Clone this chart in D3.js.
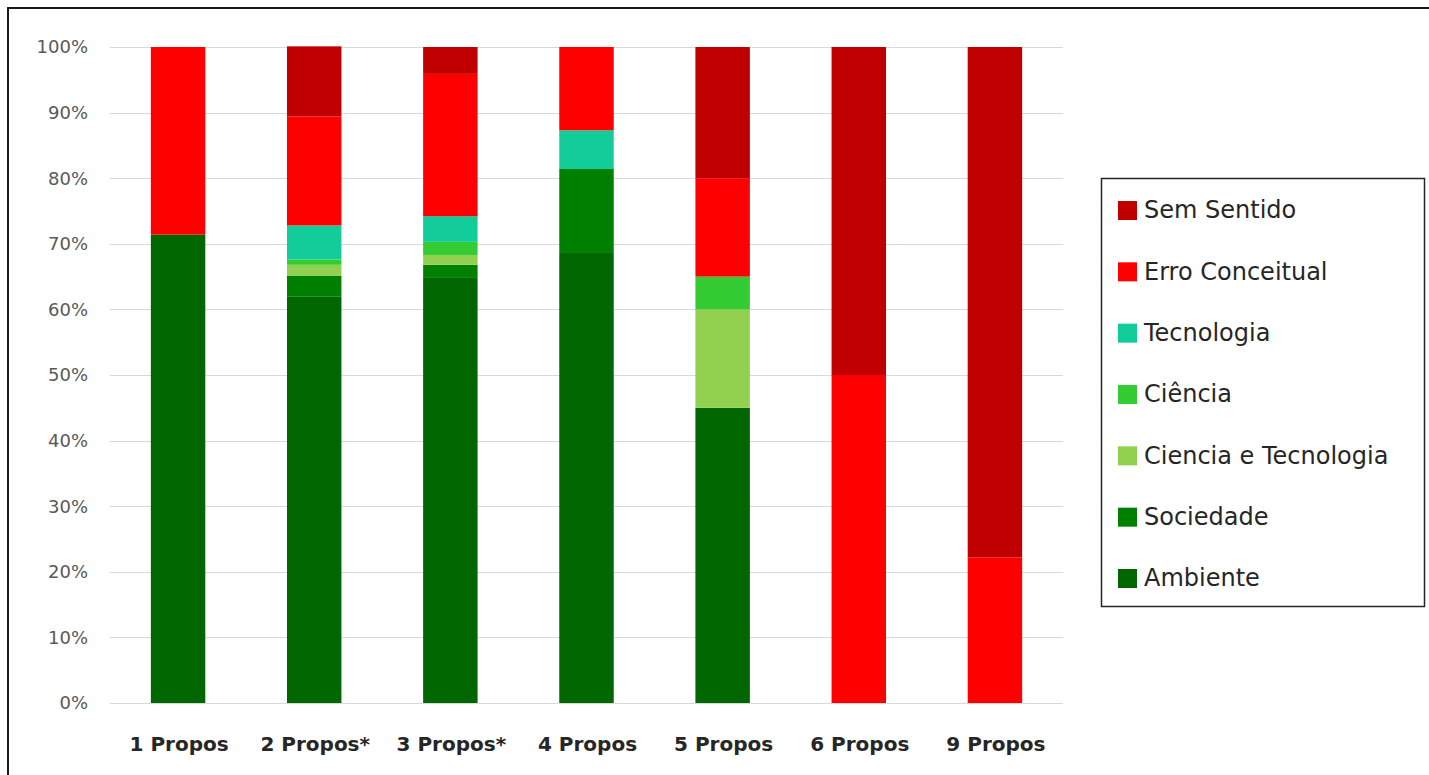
<!DOCTYPE html>
<html>
<head>
<meta charset="utf-8">
<script src="https://cdn.jsdelivr.net/npm/d3@7"></script>
<style>
  html, body { margin: 0; padding: 0; background: #fff; }
  svg { display: block; }
</style>
</head>
<body>
<svg id="chart" width="1429" height="775"></svg>
<script>
// ---- Data (percentages) ----
const categories = ["1 Propos", "2 Propos*", "3 Propos*", "4 Propos", "5 Propos", "6 Propos", "9 Propos"];
const ambiente          = [71.4, 62.0, 64.8, 68.6, 45.0,  0.0,  0.0];
const sociedade         = [ 0.0,  3.1,  2.0, 12.8,  0.0,  0.0,  0.0];
const cienciaTecnologia = [ 0.0,  1.7,  1.5,  0.0, 15.0,  0.0,  0.0];
const ciencia           = [ 0.0,  0.8,  2.0,  0.0,  5.0,  0.0,  0.0];
const tecnologia        = [ 0.0,  5.2,  3.9,  5.9,  0.0,  0.0,  0.0];
const erroConceitual    = [28.6, 16.6, 21.7, 12.7, 15.0, 50.0, 22.2];
const semSentido        = [ 0.0, 10.7,  4.1,  0.0, 20.0, 50.0, 77.8];
const yTicks = [0, 10, 20, 30, 40, 50, 60, 70, 80, 90, 100];

// series, bottom to top
const seriesNames  = ["Ambiente", "Sociedade", "Ciencia e Tecnologia", "Ciência", "Tecnologia", "Erro Conceitual", "Sem Sentido"];
const seriesValues = [ambiente, sociedade, cienciaTecnologia, ciencia, tecnologia, erroConceitual, semSentido];
const seriesColors = ["#006600", "#008000", "#92D050", "#33CC33", "#12CC9A", "#FF0000", "#C00000"];

const table = categories.map((c, i) => {
  const row = { cat: c };
  seriesNames.forEach((s, j) => row[s] = seriesValues[j][i]);
  return row;
});

const svg = d3.select("#chart");

// outer frame (top & left edges visible)
svg.append("path")
  .attr("d", "M8,775 L8,8 L1429,8")
  .attr("fill", "none")
  .attr("stroke", "#1a1a1a")
  .attr("stroke-width", 2);

const plotLeft = 110, plotRight = 1063, plotTop = 47, plotBottom = 703;

const x = d3.scaleBand().domain(categories).range([plotLeft, plotRight]).paddingInner(0.6).paddingOuter(0.3);
const y = d3.scaleLinear().domain([0, 100]).range([plotBottom, plotTop]);

// gridlines
svg.append("g").selectAll("line").data(yTicks).join("line")
  .attr("x1", plotLeft).attr("x2", plotRight)
  .attr("y1", d => Math.round(y(d)) + 0.5).attr("y2", d => Math.round(y(d)) + 0.5)
  .attr("stroke", "#d9d9d9").attr("stroke-width", 1);

// y labels
svg.append("g").selectAll("text").data(yTicks).join("text")
  .attr("x", plotLeft - 22).attr("y", d => y(d))
  .attr("dy", "0.35em")
  .attr("text-anchor", "end")
  .attr("font-family", "DejaVu Sans, sans-serif")
  .attr("font-size", 18)
  .attr("fill", "#595959")
  .text(d => d + "%");

// stacked bars
const stack = d3.stack().keys(seriesNames);
const stacked = stack(table);
svg.append("g").selectAll("g").data(stacked).join("g")
  .attr("fill", (d, i) => seriesColors[i])
  .selectAll("rect").data(d => d).join("rect")
  .attr("x", d => x(d.data.cat))
  .attr("width", x.bandwidth())
  .attr("y", d => y(d[1]))
  .attr("height", d => Math.max(0, y(d[0]) - y(d[1])));

// x labels
svg.append("g").selectAll("text").data(categories).join("text")
  .attr("x", d => x(d) + x.bandwidth() / 2 + 1)
  .attr("y", 751)
  .attr("text-anchor", "middle")
  .attr("font-family", "DejaVu Sans, sans-serif")
  .attr("font-weight", "bold")
  .attr("font-size", 20)
  .attr("fill", "#262626")
  .text(d => d);

// legend
const legendX = 1101, legendY = 178, legendW = 323, legendH = 428;
svg.append("rect")
  .attr("x", legendX + 0.5).attr("y", legendY + 0.5)
  .attr("width", legendW).attr("height", legendH)
  .attr("fill", "#fff").attr("stroke", "#262626").attr("stroke-width", 1.5);

const legendOrder = seriesNames.map((n, i) => ({ name: n, color: seriesColors[i] })).reverse();
const ly = d3.scalePoint().domain(legendOrder.map(d => d.name)).range([210, 578]);
const lg = svg.append("g").selectAll("g").data(legendOrder).join("g")
  .attr("transform", d => `translate(0,${ly(d.name)})`);
lg.append("rect")
  .attr("x", 1118).attr("y", -9).attr("width", 19).attr("height", 19)
  .attr("fill", d => d.color);
lg.append("text")
  .attr("x", 1144).attr("y", 0).attr("dy", "0.35em")
  .attr("font-family", "DejaVu Sans, sans-serif")
  .attr("font-size", 24)
  .attr("fill", "#262626")
  .text(d => d.name);
</script>
</body>
</html>
